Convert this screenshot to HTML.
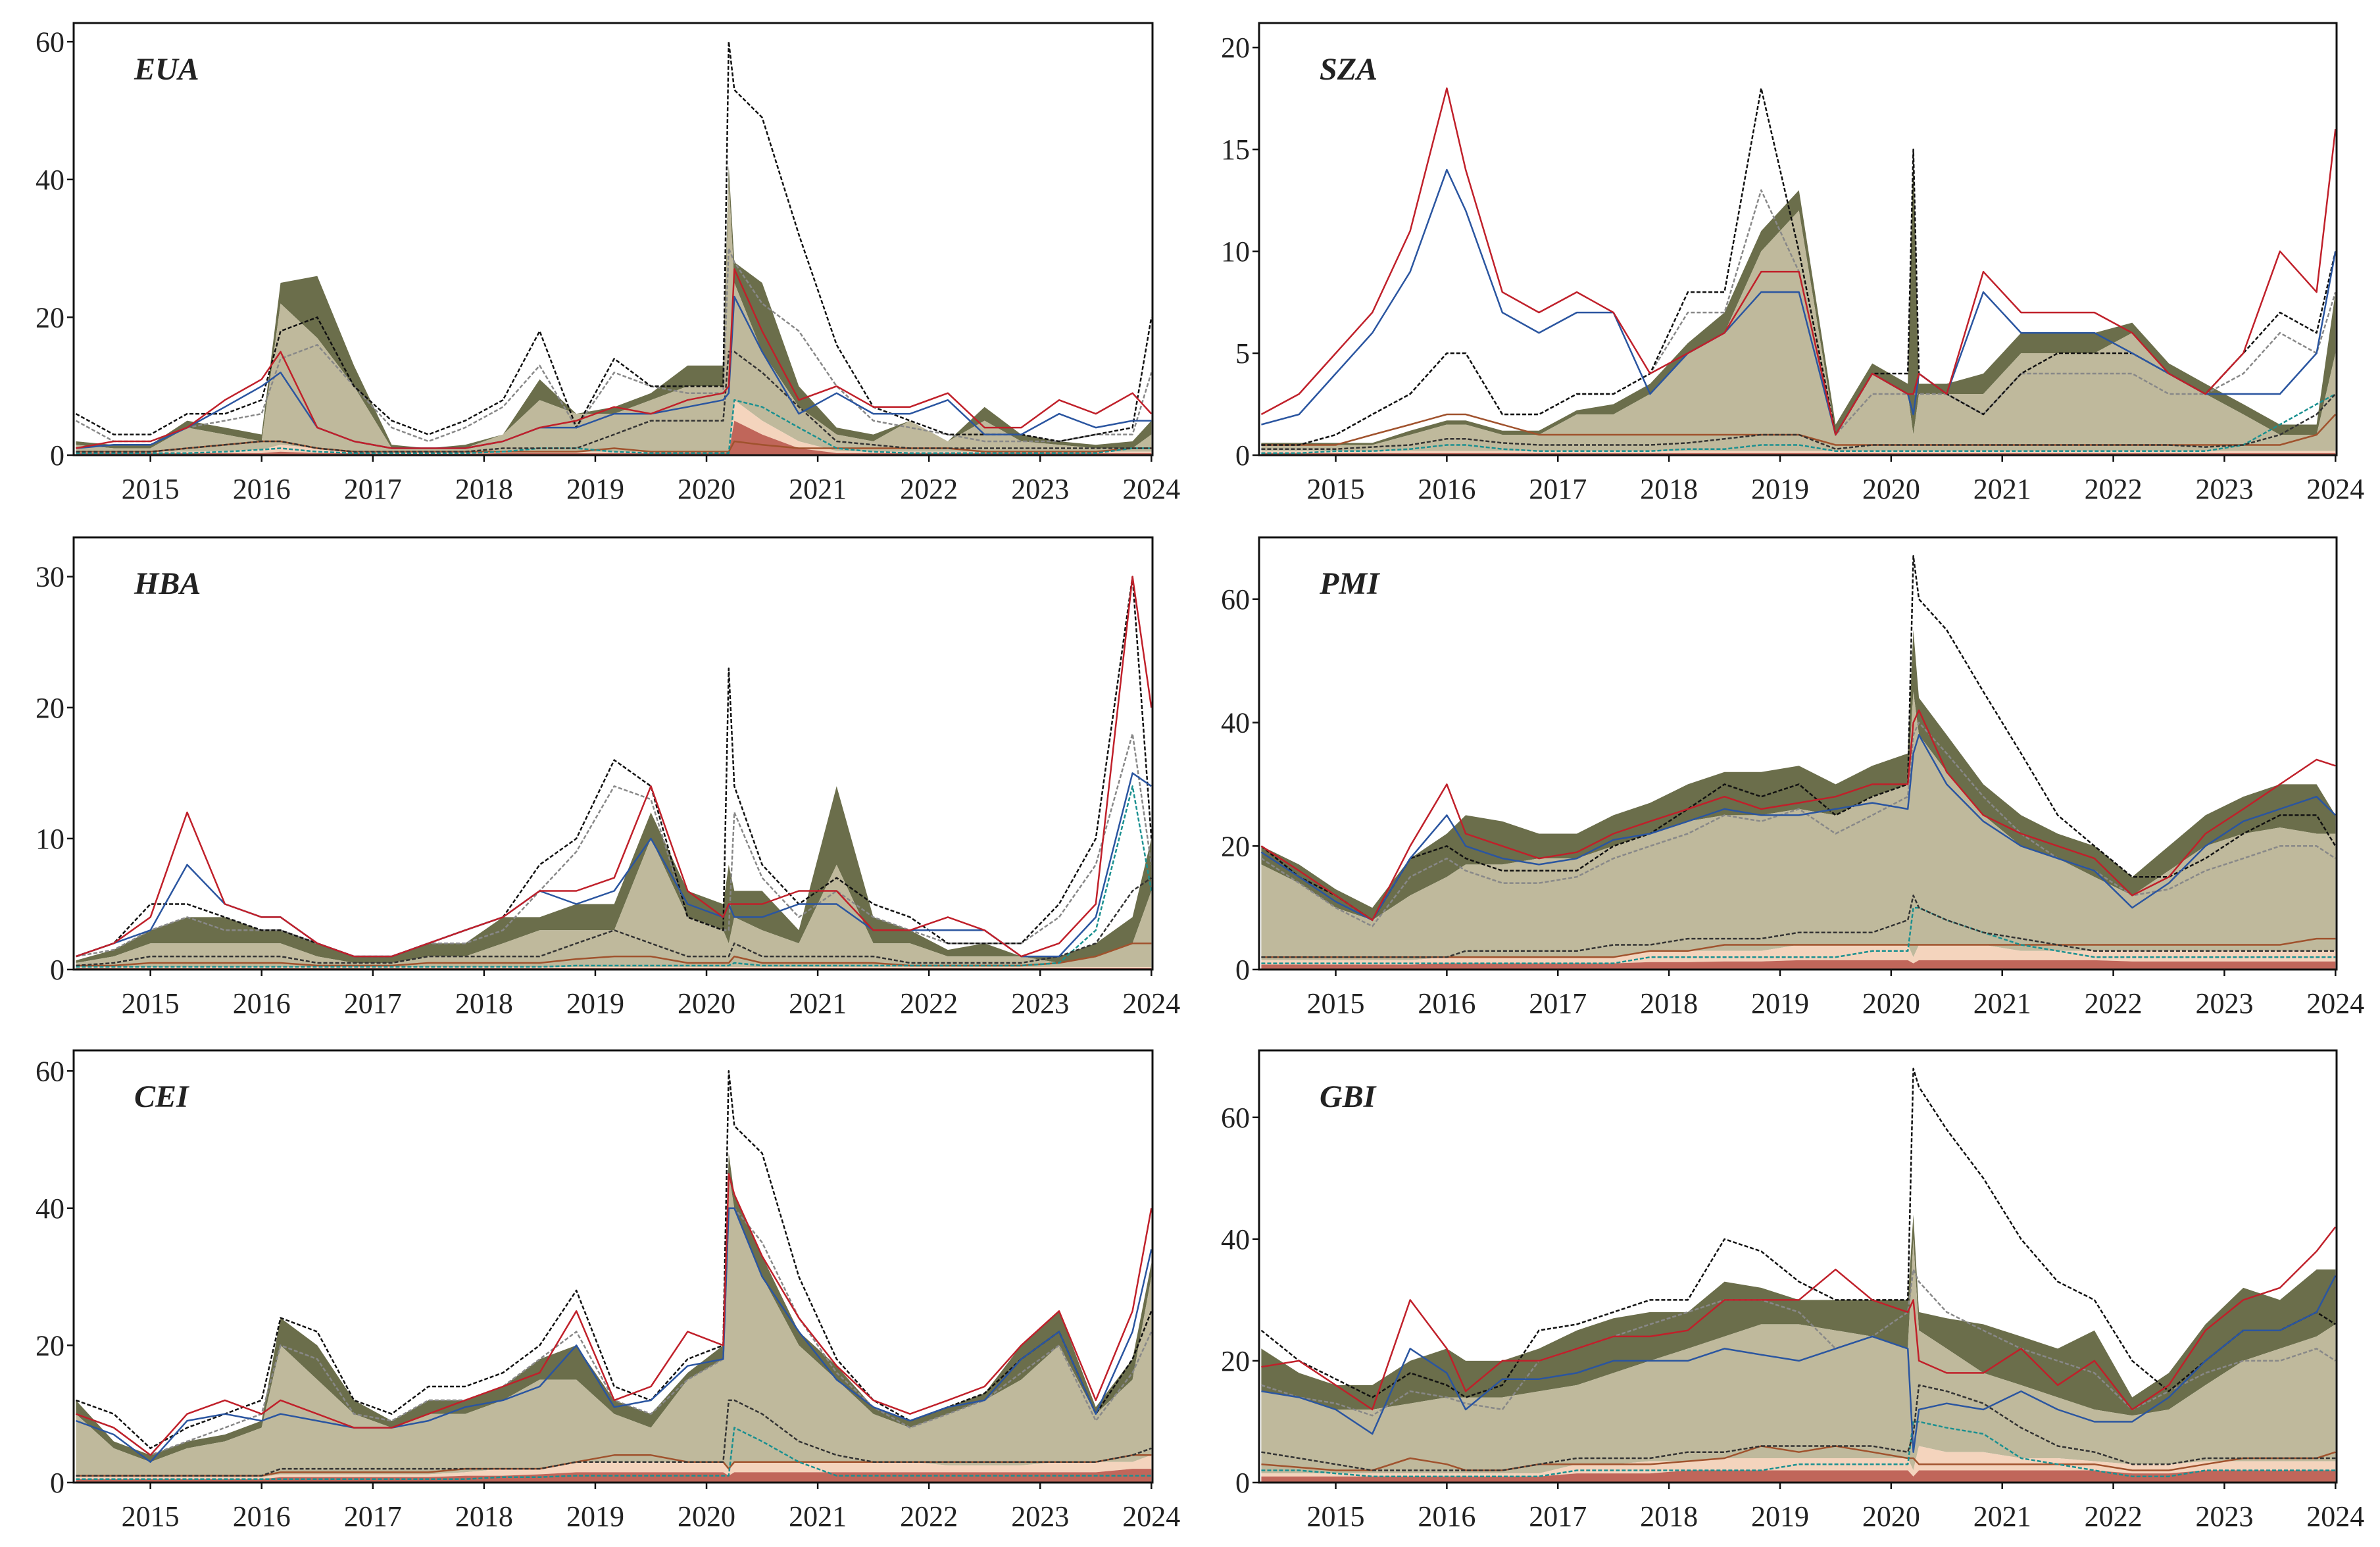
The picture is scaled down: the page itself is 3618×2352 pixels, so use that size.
<!DOCTYPE html>
<html><head><meta charset="utf-8">
<style>
html,body{margin:0;padding:0;background:#fff;}
svg{display:block;font-family:"Liberation Serif",serif;}
</style></head>
<body>
<svg id="chart" width="3618" height="2352" viewBox="0 0 3618 2352" xmlns="http://www.w3.org/2000/svg"></svg>
<script>
const dates=[2014.33,2014.67,2015.0,2015.33,2015.67,2016.0,2016.17,2016.5,2016.83,2017.17,2017.5,2017.83,2018.17,2018.5,2018.83,2019.17,2019.5,2019.83,2020.15,2020.2,2020.25,2020.5,2020.83,2021.17,2021.5,2021.83,2022.17,2022.5,2022.83,2023.17,2023.5,2023.83,2024.0];
const xTicks=[2015,2016,2017,2018,2019,2020,2021,2022,2023,2024];
const panelNames=["EUA","SZA","HBA","PMI","CEI","GBI"];
const yMaxes=[62.7,21.2,33,70,63,71];
const yTicks=[[0,20,40,60],[0,5,10,15,20],[0,10,20,30],[0,20,40,60],[0,20,40,60],[0,20,40,60]];

// cumulative stack tops
const baseEUA=[.3,.3,.3,.3,.3,.3,.5,.3,.3,.2,.2,.2,.3,.3,.3,.3,.3,.3,.3,.3,5,3,1,.3,.3,.3,.3,.3,.3,.3,.3,.3,.3];
const peachEUA=[.5,.5,.5,.5,.6,.8,1.5,1,.6,.4,.4,.4,.5,.6,.5,.5,.5,.5,.5,.5,8,5,2,.6,.5,.5,.5,.5,.5,.5,.5,.5,.5];
const tanEUA=[1.5,1,1,4,3,2,22,17,10,1,1,1,3,8,6,6,8,10,10,40,25,15,7,3,2,5,2,5,2,1.5,1,1,3];
const oliveEUA=[2,1.5,1.5,5,4,3,25,26,13,1.5,1,1.5,3,11,6,7,9,13,13,42,28,25,10,4,3,5,2,7,3,2,1.5,2,5];
const redEUA=[1,2,2,4,8,11,15,4,2,1,1,1,2,4,5,7,6,8,9,10,27,18,8,10,7,7,9,4,4,8,6,9,6];
const blueEUA=[1,1.5,1.5,4,7,10,12,4,2,1,1,1,2,4,4,6,6,7,8,9,23,15,6,9,6,6,8,3,3,6,4,5,5];
const blackEUA=[6,3,3,6,6,8,18,20,10,5,3,5,8,18,4,14,10,10,10,60,53,49,32,16,7,5,3,3,3,2,3,4,20];
const grayEUA=[5,2,2,4,5,6,14,16,10,4,2,4,7,13,4,12,10,9,9,30,28,22,18,10,5,4,3,2,2,2,3,3,12];
const darkEUA=[.5,.5,.5,1,1.5,2,2,1,.5,.5,.5,.5,1,1,1,3,5,5,5,15,15,12,7,2,1.5,1,1,1,1,1,1,1,1];
const tealEUA=[.3,.3,.3,.3,.5,.8,1,.5,.3,.3,.3,.3,.5,1,1,.5,.3,.3,.3,.3,8,7,4,1,.5,.3,.3,.3,.3,.3,.3,1,1];
const brownEUA=[.5,.5,.5,1,1.5,2,2,1,.5,.5,.5,.5,.5,.5,.5,1,.5,.5,.5,.5,2,1.5,1,1,1,1,1,.5,.5,.5,.5,1,1];

const baseSZA=Array(33).fill(0.1);
const peachSZA=Array(33).fill(0.2);
const tanSZA=[.5,.5,.5,.5,1,1.5,1.5,1,1,2,2,3,5,6,10,12,1,4,3,1,3,3,3,5,5,5,6,4,3,2,1,1,5];
const oliveSZA=[.6,.6,.6,.6,1.2,1.7,1.7,1.2,1.2,2.2,2.5,3.5,5.5,7,11,13,1.5,4.5,3.5,15,3.5,3.5,4,6,6,6,6.5,4.5,3.5,2.5,1.5,1.5,8];
const redSZA=[2,3,5,7,11,18,14,8,7,8,7,4,5,6,9,9,1,4,3,3,4,3,9,7,7,7,6,4,3,5,10,8,16];
const blueSZA=[1.5,2,4,6,9,14,12,7,6,7,7,3,5,6,8,8,1,4,3,2,4,3,8,6,6,6,5,4,3,3,3,5,10];
const blackSZA=[.5,.5,1,2,3,5,5,2,2,3,3,4,8,8,18,10,1,4,4,15,4,3,2,4,5,5,5,4,3,5,7,6,10];
const graySZA=[.5,.5,1,2,3,5,5,2,2,3,3,4,7,7,13,9,1,3,3,3,3,3,2,4,4,4,4,3,3,4,6,5,8];
const darkSZA=[.3,.3,.3,.4,.5,.8,.8,.6,.5,.5,.5,.5,.6,.8,1,1,.3,.5,.5,.5,.5,.5,.5,.5,.5,.5,.5,.5,.4,.5,1,2,3];
const tealSZA=[.1,.1,.2,.2,.3,.5,.5,.3,.2,.2,.2,.2,.3,.3,.5,.5,.2,.2,.2,.2,.2,.2,.2,.2,.2,.2,.2,.2,.2,.5,1.5,2.5,3];
const brownSZA=[.5,.5,.5,1,1.5,2,2,1.5,1,1,1,1,1,1,1,1,.5,.5,.5,.5,.5,.5,.5,.5,.5,.5,.5,.5,.5,.5,.5,1,2];

const baseHBA=Array(33).fill(0.1);
const peachHBA=Array(33).fill(0.2);
const tanHBA=[.5,1,2,2,2,2,2,1,.5,.5,1,1,2,3,3,3,10,4,3,2,4,3,2,8,2,2,1,1,1,.5,1,2,6];
const oliveHBA=[.7,1.5,3,4,4,3,3,2,1,1,2,2,4,4,5,5,12,6,5,8,6,6,3,14,4,3,1.5,2,1,1,2,4,10];
const redHBA=[1,2,4,12,5,4,4,2,1,1,2,3,4,6,6,7,14,6,4,5,5,5,6,6,3,3,4,3,1,2,5,30,20];
const blueHBA=[1,2,3,8,5,4,4,2,1,1,2,3,4,6,5,6,10,5,4,5,4,4,5,5,3,3,3,3,1,1,4,15,14];
const blackHBA=[1,2,5,5,4,3,3,2,1,1,2,3,4,8,10,16,14,4,3,23,14,8,5,7,5,4,2,2,2,5,10,30,10];
const grayHBA=[1,1.5,3,4,3,3,3,2,1,1,2,2,3,6,9,14,13,4,3,3,12,7,4,6,4,3,2,2,2,4,8,18,8];
const darkHBA=[.3,.5,1,1,1,1,1,.5,.5,.5,1,1,1,1,2,3,2,1,1,1,2,1,1,1,1,.5,.5,.5,.5,1,2,6,7];
const tealHBA=[.2,.2,.2,.2,.2,.2,.2,.2,.2,.2,.2,.2,.2,.2,.3,.3,.3,.3,.3,.3,.5,.3,.3,.3,.3,.3,.3,.3,.3,.5,3,14,6];
const brownHBA=[.3,.3,.5,.5,.5,.5,.5,.3,.3,.3,.5,.5,.5,.5,.8,1,1,.5,.5,.5,1,.5,.5,.5,.5,.3,.3,.3,.3,.5,1,2,2];

const basePMI=[.8,.8,.8,.8,.8,1,1,1,1,1,1,1.2,1.2,1.3,1.3,1.5,1.5,1.5,1.5,1,1.5,1.5,1.5,1.5,1.5,1.5,1.3,1.3,1.3,1.3,1.3,1.3,1.3];
const peachPMI=[1.5,1.5,1.5,1.5,1.5,2,2,2,2,2,2,3,3,3,3,4,4,4,4,2,4,4,4,3,3,3,3,3,3,3,3,3,3];
const tanPMI=[17,14,10,8,12,15,17,17,18,18,20,22,24,25,25,26,25,28,30,45,38,32,25,20,18,15,12,16,20,22,23,22,22];
const olivePMI=[20,17,13,10,18,22,25,24,22,22,25,27,30,32,32,33,30,33,35,55,44,38,30,25,22,20,15,20,25,28,30,30,25];
const redPMI=[20,16,12,8,20,30,22,20,18,19,22,24,26,28,26,27,28,30,30,40,42,32,25,22,20,18,12,15,22,26,30,34,33];
const bluePMI=[19,15,11,8,18,25,20,18,17,18,21,22,24,26,25,25,26,27,26,35,38,30,24,20,18,16,10,14,20,24,26,28,25];
const blackPMI=[20,15,12,8,18,20,18,16,16,16,20,22,26,30,28,30,25,28,30,67,60,55,45,35,25,20,15,15,18,22,25,25,20];
const grayPMI=[18,14,10,7,15,18,16,14,14,15,18,20,22,25,24,26,22,25,28,38,40,35,28,22,18,16,12,13,16,18,20,20,18];
const darkPMI=[2,2,2,2,2,2,3,3,3,3,4,4,5,5,5,6,6,6,8,12,10,8,6,5,4,3,3,3,3,3,3,3,3];
const tealPMI=[1,1,1,1,1,1,1,1,1,1,1,2,2,2,2,2,2,3,3,10,10,8,6,4,3,2,2,2,2,2,2,2,2];
const brownPMI=[2,2,2,2,2,2,2,2,2,2,2,3,3,4,4,4,4,4,4,4,4,4,4,4,4,4,4,4,4,4,4,5,5];

const baseCEI=[.5,.5,.5,.5,.5,.5,.8,.8,.8,.8,.8,1,1,1.2,1.5,1.5,1.5,1.5,1.5,1,1.5,1.5,1.5,1.5,1.5,1.5,1.5,1.5,1.5,1.5,1.5,2,2];
const peachCEI=[.8,.8,.8,.8,.8,.8,1.2,1.2,1.2,1.2,1.2,1.5,2,2,3,3,3,3,3,2,3,3,3,3,3,3,2.5,2.5,2.5,3,3,3,4];
const tanCEI=[10,5,3,5,6,8,20,15,10,8,10,10,12,15,15,10,8,15,18,45,40,30,20,15,10,8,10,12,15,20,10,15,30];
const oliveCEI=[12,6,4,6,7,9,24,20,12,9,12,12,14,18,20,12,10,16,20,48,42,33,22,17,11,9,11,13,20,25,11,18,32];
const redCEI=[10,8,4,10,12,10,12,10,8,8,10,12,14,16,25,12,14,22,20,45,42,33,24,17,12,10,12,14,20,25,12,25,40];
const blueCEI=[9,7,3,9,10,9,10,9,8,8,9,11,12,14,20,11,12,17,18,40,40,30,22,15,11,9,11,12,18,22,10,22,34];
const blackCEI=[12,10,5,8,10,12,24,22,12,10,14,14,16,20,28,14,12,18,20,60,52,48,30,18,12,9,11,13,18,22,10,18,25];
const grayCEI=[10,8,4,6,8,10,20,18,10,9,12,12,14,18,22,12,10,15,18,40,40,35,24,16,11,8,10,12,16,20,9,16,22];
const darkCEI=[1,1,1,1,1,1,2,2,2,2,2,2,2,2,3,3,3,3,3,12,12,10,6,4,3,3,3,3,3,3,3,4,5];
const tealCEI=[.5,.5,.5,.5,.5,.5,.5,.5,.5,.5,.5,.5,.8,.8,1,1,1,1,1,1,8,6,3,1,1,1,1,1,1,1,1,1,1];
const brownCEI=[1,1,1,1,1,1,1.5,1.5,1.5,1.5,1.5,2,2,2,3,4,4,3,3,2,3,3,3,3,3,3,3,3,3,3,3,4,4];

const baseGBI=[1,1,1,1,1,1,1,1,1,1.5,1.5,1.5,2,2,2,2,2,2,2,1,2,2,2,2,2,2,1.5,1.5,2,2,2,2,2];
const peachGBI=[1.5,1.5,1.5,1.5,1.5,1.5,1.5,1.5,1.5,3,3,3.5,3.5,4,4,4,4,4,4,2,6,5,5,4,4,3.5,3,3,3.5,3.5,3.5,3.5,3.5];
const tanGBI=[15,14,12,12,13,14,14,14,15,16,18,20,22,24,26,26,25,24,22,40,25,22,18,16,14,12,11,12,16,20,22,24,26];
const oliveGBI=[22,18,16,16,20,22,20,20,22,25,27,28,28,33,32,30,30,30,30,44,28,27,26,24,22,25,14,18,26,32,30,35,35];
const redGBI=[19,20,16,12,30,22,15,20,20,22,24,24,25,30,30,30,35,30,28,30,20,18,18,22,16,20,12,16,25,30,32,38,42];
const blueGBI=[15,14,12,8,22,18,12,17,17,18,20,20,20,22,21,20,22,24,22,5,12,13,12,15,12,10,10,14,20,25,25,28,34];
const blackGBI=[25,20,17,14,18,16,14,16,25,26,28,30,30,40,38,33,30,30,30,68,65,58,50,40,33,30,20,15,20,25,25,28,26];
const grayGBI=[16,14,13,11,15,14,13,12,20,22,24,26,28,30,30,28,22,24,28,35,33,28,25,22,20,18,12,15,18,20,20,22,20];
const darkGBI=[5,4,3,2,2,2,2,2,3,4,4,4,5,5,6,6,6,6,5,8,16,15,13,9,6,5,3,3,4,4,4,4,4];
const tealGBI=[2,2,1.5,1,1,1,1,1,1,2,2,2,2,2,2,3,3,3,3,10,10,9,8,4,3,2,1,1,2,2,2,2,2];
const brownGBI=[3,2.5,2,2,4,3,2,2,3,3,3,3,3.5,4,6,5,6,5,4,4,3,3,3,3,3,3,2,2,3,4,4,4,5];

const panelData=[
 {base:baseEUA,peach:peachEUA,tan:tanEUA,olive:oliveEUA,red:redEUA,blue:blueEUA,black:blackEUA,gray:grayEUA,dark:darkEUA,teal:tealEUA,brown:brownEUA},
 {base:baseSZA,peach:peachSZA,tan:tanSZA,olive:oliveSZA,red:redSZA,blue:blueSZA,black:blackSZA,gray:graySZA,dark:darkSZA,teal:tealSZA,brown:brownSZA},
 {base:baseHBA,peach:peachHBA,tan:tanHBA,olive:oliveHBA,red:redHBA,blue:blueHBA,black:blackHBA,gray:grayHBA,dark:darkHBA,teal:tealHBA,brown:brownHBA},
 {base:basePMI,peach:peachPMI,tan:tanPMI,olive:olivePMI,red:redPMI,blue:bluePMI,black:blackPMI,gray:grayPMI,dark:darkPMI,teal:tealPMI,brown:brownPMI},
 {base:baseCEI,peach:peachCEI,tan:tanCEI,olive:oliveCEI,red:redCEI,blue:blueCEI,black:blackCEI,gray:grayCEI,dark:darkCEI,teal:tealCEI,brown:brownCEI},
 {base:baseGBI,peach:peachGBI,tan:tanGBI,olive:oliveGBI,red:redGBI,blue:blueGBI,black:blackGBI,gray:grayGBI,dark:darkGBI,teal:tealGBI,brown:brownGBI}
];

const NS="http://www.w3.org/2000/svg";
const svg=document.getElementById("chart");
function mk(tag,attrs,parent){const e=document.createElementNS(NS,tag);for(const k in attrs)e.setAttribute(k,attrs[k]);(parent||svg).appendChild(e);return e;}

const lefts=[112,1914],widths=[1640,1638],tops=[35,817,1597],H=657;
const X0=2014.31,X1=2024.01;

panelNames.forEach((name,i)=>{
  const col=i%2,row=Math.floor(i/2);
  const L=lefts[col],W=widths[col],T=tops[row],B=T+H;
  const ymax=yMaxes[i],d=panelData[i];
  const xs=t=>L+(t-X0)/(X1-X0)*W;
  const ys=v=>B-v/ymax*H;
  const g=mk("g",{});
  
  
  const clipId="clip"+i;
  const cp=mk("clipPath",{id:clipId},g);
  mk("rect",{x:L,y:T,width:W,height:H},cp);
  const plot=mk("g",{"clip-path":"url(#"+clipId+")"},g);

  function band(lo,hi,fill,nm){
    let p="";
    dates.forEach((t,k)=>{const v=Math.max(hi[k],lo?lo[k]:0);p+=(k?"L":"M")+xs(t).toFixed(1)+","+ys(v).toFixed(1);});
    for(let k=dates.length-1;k>=0;k--){p+="L"+xs(dates[k]).toFixed(1)+","+ys(lo?lo[k]:0).toFixed(1);}
    const e=mk("path",{d:p+"Z",fill:fill,stroke:"none"},plot);
    
    
  }
  band(d.tan,d.olive,"#6b6e4b","area-olive");
  band(d.peach,d.tan,"#bfb99c","area-tan");
  band(d.base,d.peach,"#f4d4bd","area-peach");
  band(null,d.base,"#c0665a","area-base");

  function line(arr,color,dash,wd,nm){
    let p="";
    dates.forEach((t,k)=>{p+=(k?"L":"M")+xs(t).toFixed(1)+","+ys(arr[k]).toFixed(1);});
    const e=mk("path",{d:p,fill:"none",stroke:color,"stroke-width":wd,"stroke-dasharray":dash||"none","stroke-linejoin":"round"},plot);
    
    
  }
  line(d.brown,"#a0522d",null,2.5,"line-brown");
  line(d.teal,"#1a9090","6,3",2.5,"line-teal");
  line(d.dark,"#333","6,3",2.5,"line-dark-dashed");
  line(d.gray,"#888","6,3",2.5,"line-gray-dashed");
  line(d.black,"#111","6,3",2.5,"line-black-dashed");
  line(d.blue,"#2a55a0",null,2.5,"line-blue");
  line(d.red,"#c0202a",null,2.5,"line-red");

  const fr=mk("rect",{x:L,y:T,width:W,height:H,fill:"none",stroke:"#111","stroke-width":3},g);
  
  

  yTicks[i].forEach(v=>{
    const y=ys(v);
    mk("line",{x1:L-10,x2:L,y1:y,y2:y,stroke:"#111","stroke-width":2.5},g);
    const tx=mk("text",{x:L-14,y:y+15,"text-anchor":"end","font-size":44,fill:"#222"},g);
    tx.textContent=v;
    
    
  });
  xTicks.forEach(yr=>{
    const x=xs(yr);
    mk("line",{x1:x,x2:x,y1:B,y2:B+10,stroke:"#111","stroke-width":2.5},g);
    const tx=mk("text",{x:x,y:B+66,"text-anchor":"middle","font-size":44,fill:"#222"},g);
    tx.textContent=yr;
    
    
  });
  const title=mk("text",{x:L+92,y:T+86,"font-size":48,"font-weight":"bold","font-style":"italic",fill:"#222"},g);
  title.textContent=name;
  
  
});
</script>
</body></html>
